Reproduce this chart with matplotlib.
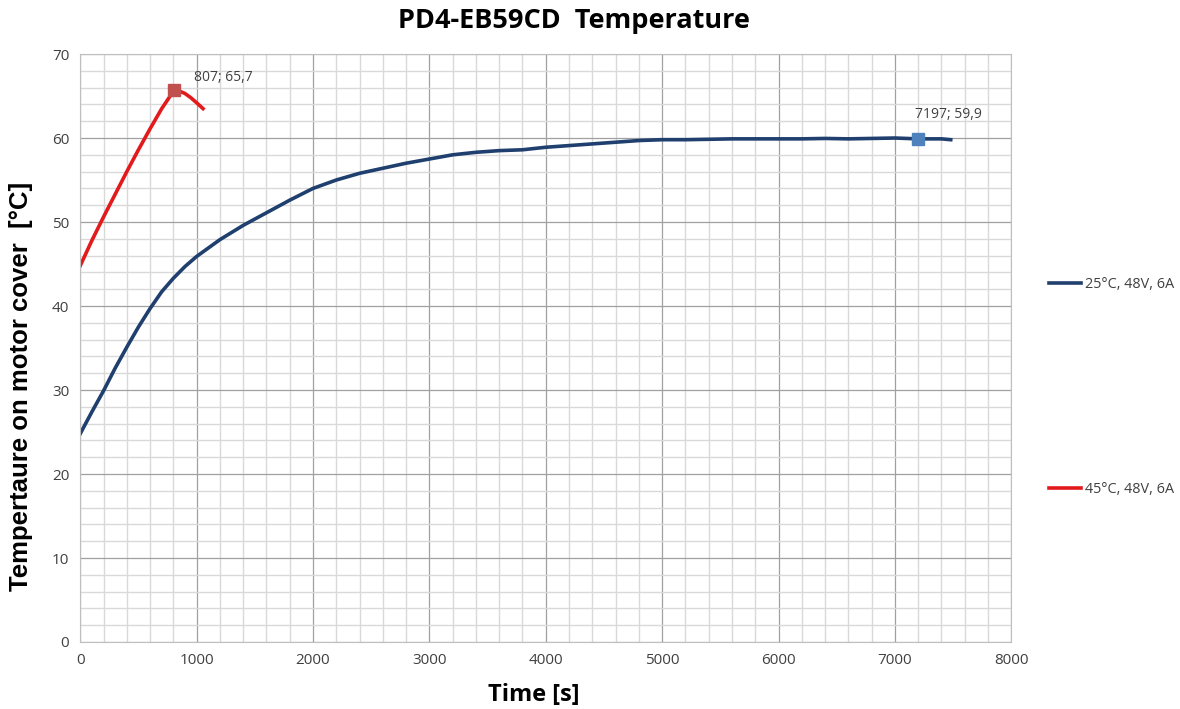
import matplotlib
matplotlib.use("Agg")
import matplotlib.pyplot as plt
from matplotlib.ticker import MultipleLocator

# data
blue_t = [0, 100, 200, 300, 400, 500, 600, 700, 800, 900, 1000, 1200, 1400, 1600, 1800,
          2000, 2200, 2400, 2600, 2800, 3000, 3200, 3400, 3600, 3800, 4000, 4200, 4400,
          4600, 4800, 5000, 5200, 5400, 5600, 5800, 6000, 6200, 6400, 6600, 6800, 7000,
          7197, 7400, 7480]
blue_v = [24.8, 27.4, 29.9, 32.6, 35.1, 37.5, 39.7, 41.7, 43.3, 44.7, 45.9, 47.9, 49.6,
          51.1, 52.6, 54.0, 55.0, 55.8, 56.4, 57.0, 57.5, 58.0, 58.3, 58.5, 58.6, 58.9,
          59.1, 59.3, 59.5, 59.7, 59.8, 59.8, 59.85, 59.9, 59.9, 59.9, 59.9, 59.95, 59.9,
          59.95, 60.0, 59.9, 59.9, 59.8]
red_t = [0, 100, 200, 300, 400, 500, 600, 700, 807, 850, 900, 950, 1000, 1055]
red_v = [44.8, 47.8, 50.6, 53.3, 56.0, 58.6, 61.1, 63.5, 65.7, 65.6, 65.3, 64.8, 64.2, 63.5]
peak_red = (807, 65.7)
peak_blue = (7197, 59.9)
labels = ["25°C, 48V, 6A", "45°C, 48V, 6A"]

plt.rcParams['font.family'] = ['Open Sans', 'DejaVu Sans']

fig = plt.figure(figsize=(11.8, 7.09), dpi=100)
ax = fig.add_axes([0.068, 0.0945, 0.789, 0.8293])

ax.set_xlim(0, 8000)
ax.set_ylim(0, 70)
ax.xaxis.set_major_locator(MultipleLocator(1000))
ax.xaxis.set_minor_locator(MultipleLocator(200))
ax.yaxis.set_major_locator(MultipleLocator(10))
ax.yaxis.set_minor_locator(MultipleLocator(2))
ax.grid(which='minor', color='#d9d9d9', linewidth=1.0)
ax.grid(which='major', color='#a0a0a0', linewidth=0.9)
ax.set_axisbelow(True)
ax.tick_params(which='both', length=0, labelsize=11, colors='#404040', pad=8)
for s in ax.spines.values():
    s.set_color('#bfbfbf')

lb, = ax.plot(blue_t, blue_v, color='#1f3f6e', linewidth=2.6, label=labels[0])
lr, = ax.plot(red_t, red_v, color='#e31a1c', linewidth=2.6, label=labels[1])
ax.plot(*peak_red, marker='s', color='#c0504d', markersize=8, linestyle='none')
ax.plot(*peak_blue, marker='s', color='#4f81bd', markersize=8, linestyle='none')

ax.annotate("807; 65,7", peak_red, xytext=(14, 4), textcoords='offset points',
            fontsize=10, color='#404040', va='bottom')
ax.annotate("7197; 59,9", peak_blue, xytext=(-2, 12), textcoords='offset points',
            fontsize=10, color='#404040', va='bottom')

fig.text(0.486, 0.971, "PD4-EB59CD  Temperature", ha='center', va='center',
         fontsize=19.5, fontweight='bold', color='#000000')
ax.set_xlabel("Time [s]", fontsize=17, fontweight='bold')
ax.xaxis.set_label_coords(0.487, -0.07)
ax.set_ylabel("Tempertaure on motor cover  [°C]", fontsize=18.5, fontweight='bold',
              fontfamily='Liberation Sans')
ax.yaxis.set_label_coords(-0.051, 0.434)

fig.legend(handles=[lb, lr], loc='upper left', bbox_to_anchor=(0.878, 0.627),
           frameon=False, fontsize=10.4, handlelength=2.2, handletextpad=0.3,
           labelspacing=13.1, labelcolor='#404040')

fig.savefig("out.png", dpi=100)
